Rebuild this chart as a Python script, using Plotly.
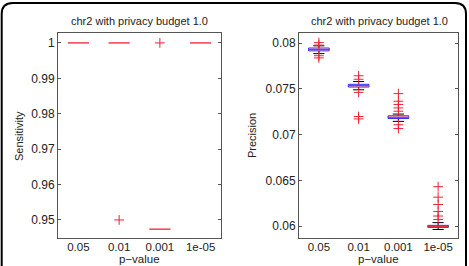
import plotly.graph_objects as go

W, H = 469, 266

categories = ['0.05', '0.01', '0.001', '1e-05']

# Sensitivity box statistics
sens_q1 = [1.0, 1.0, 0.9474, 1.0]
sens_med = [1.0, 1.0, 0.9474, 1.0]
sens_q3 = [1.0, 1.0, 0.9474, 1.0]
sens_lo = [1.0, 1.0, 0.9474, 1.0]
sens_hi = [1.0, 1.0, 0.9474, 1.0]
sens_out = [[], [0.95], [1.0], []]

# Precision box statistics
prec_q1 = [0.07915, 0.07520, 0.07176, 0.05988]
prec_med = [0.07930, 0.07535, 0.07190, 0.06000]
prec_q3 = [0.07946, 0.07550, 0.07206, 0.06010]
prec_lo = [0.07885, 0.07490, 0.07145, 0.05965]
prec_hi = [0.07970, 0.07580, 0.07225, 0.06040]
prec_out = [
    [0.08005, 0.07978, 0.07862, 0.07838],
    [0.07643, 0.07605, 0.07462, 0.07198, 0.07172],
    [0.07448, 0.07365, 0.07330, 0.07292, 0.07256, 0.07108, 0.07068],
    [0.06432, 0.06318, 0.06238, 0.06162, 0.06112, 0.06075],
]

RED = '#ee2233'
BLUE = '#2a2aff'
BW = 0.26   # box half width (category units)
CW = 0.14   # whisker cap half width


def px_x(p):
    return p / W


def px_y(p):
    return 1 - p / H


def box_traces(q1, med, q3, lo, hi, outs, xa, ya):
    bx, by, mx, my, wx, wy, cx, cy, ox, oy = [], [], [], [], [], [], [], [], [], []
    for i in range(len(categories)):
        x = i + 1
        if q3[i] > q1[i]:
            bx += [x - BW, x + BW, x + BW, x - BW, x - BW, None]
            by += [q1[i], q1[i], q3[i], q3[i], q1[i], None]
        mx += [x - BW, x + BW, None]
        my += [med[i], med[i], None]
        if hi[i] > q3[i] or lo[i] < q1[i]:
            wx += [x, x, None, x, x, None]
            wy += [q3[i], hi[i], None, q1[i], lo[i], None]
            cx += [x - CW, x + CW, None, x - CW, x + CW, None]
            cy += [hi[i], hi[i], None, lo[i], lo[i], None]
        for v in outs[i]:
            ox.append(x)
            oy.append(v)
    common = dict(xaxis=xa, yaxis=ya, showlegend=False, hoverinfo='skip')
    return [
        go.Scatter(x=wx, y=wy, mode='lines', line=dict(color='black', width=1, dash='dot'), **common),
        go.Scatter(x=cx, y=cy, mode='lines', line=dict(color='black', width=1), **common),
        go.Scatter(x=bx, y=by, mode='lines', line=dict(color=BLUE, width=1), **common),
        go.Scatter(x=mx, y=my, mode='lines', line=dict(color=RED, width=1.3), **common),
        go.Scatter(x=ox, y=oy, mode='markers',
                   marker=dict(symbol='cross-thin', size=7, line=dict(color=RED, width=1)), **common),
    ]


fig = go.Figure()
for t in box_traces(sens_q1, sens_med, sens_q3, sens_lo, sens_hi, sens_out, 'x', 'y'):
    fig.add_trace(t)
for t in box_traces(prec_q1, prec_med, prec_q3, prec_lo, prec_hi, prec_out, 'x2', 'y2'):
    fig.add_trace(t)

FONT = 'Liberation Sans, Arial, sans-serif'
TXT = '#222222'
AX = '#555555'

xcommon = dict(range=[0.5, 4.5], tickmode='array', tickvals=[1, 2, 3, 4], ticktext=categories,
               showgrid=False, zeroline=False, showline=True, linecolor=AX, linewidth=1,
               mirror=True, ticks='', ticklabelstandoff=-2,
               tickfont=dict(family=FONT, size=11.5, color=TXT), fixedrange=True)
ycommon = dict(showgrid=False, zeroline=False, showline=True, linecolor=AX, linewidth=1,
               mirror='allticks', ticks='inside', ticklen=3, tickcolor=AX,
               tickfont=dict(family=FONT, size=12, color=TXT), fixedrange=True)

ydom = [px_y(238), px_y(33)]
fig.update_layout(
    width=W, height=H,
    margin=dict(l=0, r=0, t=0, b=0),
    paper_bgcolor='white', plot_bgcolor='white',
    xaxis=dict(domain=[px_x(58), px_x(221)], anchor='y', **xcommon),
    yaxis=dict(domain=ydom, anchor='x', range=[0.9449, 1.0028],
               tickvals=[0.95, 0.96, 0.97, 0.98, 0.99, 1.0],
               ticktext=['0.95', '0.96', '0.97', '0.98', '0.99', '1'], **ycommon),
    xaxis2=dict(domain=[px_x(299), px_x(458)], anchor='y2', **xcommon),
    yaxis2=dict(domain=ydom, anchor='x2', range=[0.05872, 0.08110],
                tickvals=[0.06, 0.065, 0.07, 0.075, 0.08],
                ticktext=['0.06', '0.065', '0.07', '0.075', '0.08'], **ycommon),
)

ann_font = dict(family=FONT, size=11, color=TXT)
plab = dict(family=FONT, size=11.5, color=TXT)
annotations = [
    dict(text='chr2 with privacy budget 1.0', x=px_x(139.5), y=px_y(21.5)),
    dict(text='chr2 with privacy budget 1.0', x=px_x(379), y=px_y(21.5)),
    dict(text='p\u2212value', x=px_x(139.5), y=0, yanchor='bottom', borderpad=0, font=plab),
    dict(text='p\u2212value', x=px_x(378.5), y=0, yanchor='bottom', borderpad=0, font=plab),
    dict(text='Sensitivity', x=px_x(19), y=px_y(136), textangle=-90),
    dict(text='Precision', x=px_x(252), y=px_y(136), textangle=-90),
]
anns = []
for a in annotations:
    base = dict(xref='paper', yref='paper', showarrow=False, xanchor='center',
                yanchor='middle', font=ann_font)
    base.update(a)
    anns.append(base)
fig.update_layout(annotations=anns)

# rounded frame around the figure
x0, y0, x1, y1, r = 1.7, 3.0, 466.0, 275.0, 11
path = (f"M {px_x(x0)},{px_y(y0 + r)} Q {px_x(x0)},{px_y(y0)} {px_x(x0 + r)},{px_y(y0)} "
        f"L {px_x(x1 - r)},{px_y(y0)} Q {px_x(x1)},{px_y(y0)} {px_x(x1)},{px_y(y0 + r)} "
        f"L {px_x(x1)},{px_y(y1)} L {px_x(x0)},{px_y(y1)} Z")
fig.add_shape(type='path', path=path, xref='paper', yref='paper',
              line=dict(color='black', width=2), fillcolor='rgba(0,0,0,0)', layer='above')

fig.write_html('out.html')
